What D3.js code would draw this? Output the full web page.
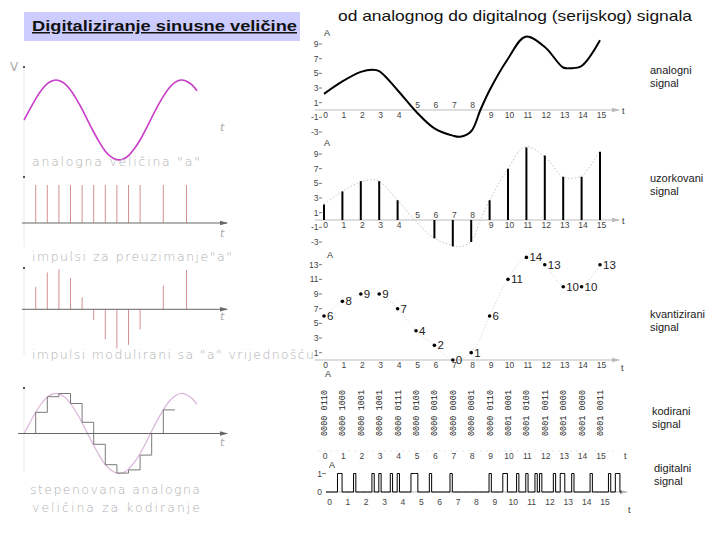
<!DOCTYPE html>
<html>
<head>
<meta charset="utf-8">
<script src="https://cdn.jsdelivr.net/npm/d3@7"></script>
<style>
body { margin: 0; background: #fff; }
svg { display: block; }
</style>
</head>
<body>
<svg width="720" height="540"></svg>
<script>
// ---- left side: sine, impulses, modulated impulses, staircase ----
var sineK = [0, 0.5, 1, 1.5, 2, 2.5, 3, 3.5, 4, 4.5, 5, 5.5, 6, 6.5, 7, 7.5, 8, 8.5, 9, 9.5, 10, 10.5, 11, 11.5, 12, 12.5, 13, 13.5, 14, 14.5, 14.9]
var sineV = [0, 0.27, 0.53, 0.75, 0.91, 0.99, 0.99, 0.91, 0.75, 0.53, 0.27, -0.02, -0.30, -0.56, -0.78, -0.92, -0.99, -0.98, -0.89, -0.72, -0.50, -0.23, 0.06, 0.34, 0.59, 0.80, 0.94, 1.0, 0.97, 0.87, 0.73]
var pulseK = [1, 2, 3, 4, 5, 6, 7, 8, 9, 10, 12, 14]
var pulseV = [0.56, 0.92, 1.0, 0.78, 0.30, -0.27, -0.75, -0.98, -0.89, -0.50, 0.59, 0.98]
var stepK = [1, 1, 2, 3, 4, 5, 6, 7, 8, 9, 10, 11, 12, 13]
var stepV = [0, 0.53, 0.92, 1.0, 0.75, 0.28, -0.27, -0.78, -0.99, -0.91, -0.54, 0, 0.59, 0.59]

// ---- right side: analog -> sampled -> quantized -> coded -> digital ----
var tTicks = [0, 1, 2, 3, 4, 5, 6, 7, 8, 9, 10, 11, 12, 13, 14, 15]
var tAbove = [5, 6, 7, 8]
var yTicksA = [9, 7, 5, 3, 1, -1, -3]
var yTicksQ = [13, 11, 9, 7, 5, 3, 1]
var analogT = [0, 1, 2, 2.65, 3, 4, 5, 6, 7, 7.4, 8, 8.5, 9, 10, 10.95, 12, 13, 13.4, 14, 15]
var analogV = [2.2, 3.9, 5.2, 5.5, 5.3, 2.7, -0.2, -2.5, -3.5, -3.65, -2.9, 0, 2.7, 7.0, 10.0, 8.6, 5.8, 5.7, 6.0, 9.5]
var sampledV = [2.1, 3.9, 5.3, 5.3, 2.7, 0, -2.5, -3.6, -3.0, 2.7, 7.0, 9.9, 8.8, 5.9, 5.9, 9.3]
var quantV = [6, 8, 9, 9, 7, 4, 2, 0, 1, 6, 11, 14, 13, 10, 10, 13]
var codes = ["0000 0110", "0000 1000", "0000 1001", "0000 1001", "0000 0111", "0000 0100",
  "0000 0010", "0000 0000", "0000 0001", "0000 0110", "0001 0001", "0001 0100",
  "0001 0011", "0001 0000", "0001 0000", "0001 0011"]

var svg = d3.select('svg')
svg.append('rect').attr('width', 720).attr('height', 540).attr('fill', '#fff')

var defs = svg.append('defs')
function arrow(id, color){
  defs.append('marker').attr('id', id)
    .attr('viewBox', '0 0 8 6').attr('refX', 7).attr('refY', 3)
    .attr('markerWidth', 8).attr('markerHeight', 6).attr('markerUnits', 'userSpaceOnUse')
    .attr('orient', 'auto')
    .append('path').attr('d', 'M0,0.8 L8,3 L0,5.2 z').attr('fill', color)
}
arrow('arrL', '#666')
arrow('arrR', '#bbb')

// titles
svg.append('rect').attr('x', 24).attr('y', 12).attr('width', 276).attr('height', 29).attr('fill', '#ccccff')
svg.append('text').attr('x', 32).attr('y', 31)
  .attr('font-family', 'Liberation Sans, Arial, sans-serif').attr('font-size', 15).attr('font-weight', 'bold')
  .attr('text-decoration', 'underline').attr('fill', '#111')
  .attr('textLength', 265).attr('lengthAdjust', 'spacingAndGlyphs')
  .text('Digitaliziranje sinusne veličine')
svg.append('text').attr('x', 338).attr('y', 21)
  .attr('font-family', 'Liberation Sans, Arial, sans-serif').attr('font-size', 15).attr('fill', '#111')
  .attr('textLength', 354).attr('lengthAdjust', 'spacingAndGlyphs')
  .text('od analognog do digitalnog (serijskog) signala')

// ================= left panels =================
var lx = d3.scaleLinear().domain([0, 15]).range([24.1, 198.1])
var ly1 = d3.scaleLinear().domain([-1, 1]).range([160, 80])
var ly3 = d3.scaleLinear().domain([-1, 1]).range([349.3, 269.3])
var ly4 = d3.scaleLinear().domain([-1, 1]).range([473.5, 393.5])
var pulseTop = 185, pulseBase = 223

var left = svg.append('g')
var sine = sineK.map(function(k, i){ return [k, sineV[i]] })

function faintAxis(y0, y1){
  left.append('line').attr('x1', 24).attr('x2', 24).attr('y1', y0).attr('y2', y1)
    .attr('stroke', '#ececec')
  left.append('rect').attr('x', 23).attr('y', y0 - 1).attr('width', 2).attr('height', 2).attr('fill', '#555')
}
function hAxis(y, x0){
  left.append('line').attr('x1', x0).attr('x2', 227).attr('y1', y).attr('y2', y)
    .attr('stroke', '#666').attr('marker-end', 'url(#arrL)')
}
function tLabel(y){
  left.append('text').attr('x', 220).attr('y', y).attr('font-family', 'DejaVu Sans, sans-serif')
    .attr('font-size', 11).attr('font-style', 'italic').attr('fill', '#aaa').text('t')
}
function grayText(s, x, y, w){
  left.append('text').attr('x', x).attr('y', y)
    .attr('font-family', 'DejaVu Sans, sans-serif').attr('font-weight', 200)
    .attr('font-size', 12.5).attr('fill', '#b0b0b0')
    .attr('textLength', w).attr('lengthAdjust', 'spacing')
    .text(s)
}

// panel 1: analog sine
faintAxis(67, 177)
left.append('text').attr('x', 10).attr('y', 71).attr('font-family', 'DejaVu Sans, sans-serif')
  .attr('font-size', 12).attr('fill', '#aaa').text('V')
left.append('path')
  .attr('d', d3.line().x(function(d){ return lx(d[0]) }).y(function(d){ return ly1(d[1]) }).curve(d3.curveNatural)(sine))
  .attr('fill', 'none').attr('stroke', '#c83cc8').attr('stroke-width', 1.6)
tLabel(131)
grayText('analogna  veličina  "a"', 32, 166, 168)

// panel 2: sampling impulses
faintAxis(177, 247)
left.selectAll('.imp').data(pulseK).enter().append('line')
  .attr('x1', function(d){ return lx(d) }).attr('x2', function(d){ return lx(d) })
  .attr('y1', pulseTop).attr('y2', pulseBase)
  .attr('stroke', '#d49090')
hAxis(pulseBase, 22)
tLabel(237)
grayText('impulsi  za  preuzimanje"a"', 32, 261, 200)

// panel 3: modulated impulses
faintAxis(268, 356)
left.selectAll('.mod').data(pulseK).enter().append('line')
  .attr('x1', function(d){ return lx(d) }).attr('x2', function(d){ return lx(d) })
  .attr('y1', ly3(0)).attr('y2', function(d, i){ return ly3(pulseV[i]) })
  .attr('stroke', '#d49090')
hAxis(ly3(0), 22)
tLabel(320)
grayText('impulsi modulirani sa "a"  vrijednošću', 32, 359, 282)

// panel 4: staircase
faintAxis(388, 472)
left.append('path')
  .attr('d', d3.line().x(function(d){ return lx(d[0]) }).y(function(d){ return ly4(d[1]) }).curve(d3.curveNatural)(sine))
  .attr('fill', 'none').attr('stroke', '#dab4da').attr('stroke-width', 1.2)
left.append('path')
  .attr('d', d3.line().x(function(d){ return lx(d) }).y(function(d, i){ return ly4(stepV[i]) }).curve(d3.curveStepAfter)(stepK))
  .attr('fill', 'none').attr('stroke', '#7a7a7a').attr('stroke-width', 1)
hAxis(ly4(0), 18)
tLabel(446)
grayText('stepenovana  analogna', 30, 494, 170)
grayText('veličina  za  kodiranje', 32, 512, 168)

// ================= right panels =================
var rx = d3.scaleLinear().domain([0, 15]).range([324, 600])
var unit = 7.33
var right = svg.append('g').attr('font-family', 'Liberation Sans, Arial, sans-serif')

function yScale(y0){ return d3.scaleLinear().domain([0, 1]).range([y0, y0 - unit]) }
var yA = yScale(110), yS = yScale(220), yQ = yScale(360)

function rAxis(y, x0, x1, col){
  right.append('line').attr('x1', x0).attr('x2', x1).attr('y1', y).attr('y2', y)
    .attr('stroke', col || '#bbb').attr('marker-end', 'url(#arrR)')
}
function letter(s, x, y, size){
  right.append('text').attr('x', x).attr('y', y).attr('font-size', size || 9).attr('fill', '#333').text(s)
}
function yTicks(ys, vals){
  vals.forEach(function(v){
    right.append('text').attr('x', 318.5).attr('y', ys(v) + 3).attr('text-anchor', 'end')
      .attr('font-size', 8.5).attr('fill', '#444').text(v)
    right.append('line').attr('x1', 319).attr('x2', 322).attr('y1', ys(v)).attr('y2', ys(v))
      .attr('stroke', '#777')
  })
}
function xTicks(y0, above, xs, shift){
  tTicks.forEach(function(t){
    var up = above && tAbove.indexOf(t) >= 0
    right.append('text').attr('x', xs(t) + (shift || 1.5)).attr('y', up ? y0 - 2 : y0 + 7.5)
      .attr('text-anchor', 'middle').attr('font-size', 8.5).attr('fill', '#444').text(t)
  })
}
function sideLabel(a, b, x, y){
  right.append('text').attr('x', x).attr('y', y).attr('font-size', 11).attr('fill', '#222').text(a)
  right.append('text').attr('x', x).attr('y', y + 12.5).attr('font-size', 11).attr('fill', '#222').text(b)
}

var analogPts = analogT.map(function(t, i){ return [t, analogV[i]] })
function curveIn(ys){
  return d3.line().x(function(d){ return rx(d[0]) }).y(function(d){ return ys(d[1]) })
    .curve(d3.curveCatmullRom.alpha(0.5))(analogPts)
}

// analog
rAxis(110, 315, 619)
yTicks(yA, yTicksA)
xTicks(110, true, rx)
letter('A', 324, 36)
letter('t', 622, 114, 9)
right.append('path').attr('d', curveIn(yA))
  .attr('fill', 'none').attr('stroke', '#000').attr('stroke-width', 2)
sideLabel('analogni', 'signal', 650, 74)

// sampled
rAxis(220, 315, 619)
yTicks(yS, yTicksA)
xTicks(220, true, rx)
letter('A', 324, 146)
letter('t', 622, 224, 9)
right.append('path').attr('d', curveIn(yS))
  .attr('fill', 'none').attr('stroke', '#bbb').attr('stroke-width', 0.9).attr('stroke-dasharray', '1.5,2')
right.selectAll('.stem').data(sampledV).enter().append('line')
  .attr('x1', function(d, i){ return rx(tTicks[i]) }).attr('x2', function(d, i){ return rx(tTicks[i]) })
  .attr('y1', yS(0)).attr('y2', function(d){ return yS(d) })
  .attr('stroke', '#000').attr('stroke-width', 2)
sideLabel('uzorkovani', 'signal', 650, 182)

// quantized
rAxis(360, 315, 619)
yTicks(yQ, yTicksQ)
xTicks(360, false, rx)
letter('A', 327, 258)
letter('t', 621, 371, 9)
right.append('path')
  .attr('d', d3.line().x(function(d, i){ return rx(tTicks[i]) }).y(function(d){ return yQ(d) }).curve(d3.curveCatmullRom)(quantV))
  .attr('fill', 'none').attr('stroke', '#ccc').attr('stroke-width', 0.9).attr('stroke-dasharray', '1,2')
right.selectAll('.qdot').data(quantV).enter().append('circle')
  .attr('cx', function(d, i){ return rx(tTicks[i]) }).attr('cy', function(d){ return yQ(d) })
  .attr('r', 1.8).attr('fill', '#000')
right.selectAll('.qlab').data(quantV).enter().append('text')
  .attr('x', function(d, i){ return rx(tTicks[i]) + 3 }).attr('y', function(d){ return yQ(d) + 4 })
  .attr('font-size', 11.5).attr('fill', '#222').text(function(d){ return d })
sideLabel('kvantizirani', 'signal', 650, 318)

// coded
letter('A', 325, 377)
right.selectAll('.code').data(codes).enter().append('text')
  .attr('transform', function(d, i){ return 'translate(' + (rx(tTicks[i]) + 3) + ',413) rotate(-90)' })
  .attr('text-anchor', 'middle')
  .attr('font-family', 'Liberation Mono, DejaVu Sans Mono, monospace').attr('font-size', 9)
  .attr('fill', '#222')
  .attr('textLength', 46).attr('lengthAdjust', 'spacingAndGlyphs')
  .text(function(d){ return d })
right.append('line').attr('x1', 318).attr('x2', 619).attr('y1', 451).attr('y2', 451)
  .attr('stroke', '#e4e4e4').attr('stroke-dasharray', '2,4')
xTicks(451.5, false, rx, 1)
letter('t', 624, 459, 9)
sideLabel('kodirani', 'signal', 652, 415)

// digital
var dx = d3.scaleLinear().domain([0, 16]).range([326, 326 + 16 * 18.37])
var dy = d3.scaleLinear().domain([0, 1]).range([492, 473.5])
var bits = codes.join('').replace(/ /g, '').split('').map(Number)
var bitW = 1 / 8
var bitPts = bits.map(function(b, i){ return [i * bitW, b] })
bitPts.unshift([0, 0])
bitPts.push([bits.length * bitW, 0])
bitPts.push([bits.length * bitW + 0.1, 0])
rAxis(492, 326, 627)
right.append('path')
  .attr('d', d3.line().x(function(d){ return dx(d[0]) }).y(function(d){ return dy(d[1]) }).curve(d3.curveStepAfter)(bitPts))
  .attr('fill', 'none').attr('stroke', '#000').attr('stroke-width', 1)
letter('A', 329, 468)
right.append('text').attr('x', 322).attr('y', dy(1) + 3).attr('text-anchor', 'end').attr('font-size', 8.5).attr('fill', '#444').text('1')
right.append('text').attr('x', 322).attr('y', dy(0) + 3).attr('text-anchor', 'end').attr('font-size', 8.5).attr('fill', '#444').text('0')
right.append('line').attr('x1', 322).attr('x2', 326).attr('y1', dy(1)).attr('y2', dy(1)).attr('stroke', '#777')
tTicks.forEach(function(t){
  right.append('text').attr('x', dx(t) + 3.5).attr('y', 504.5).attr('text-anchor', 'middle')
    .attr('font-size', 8.5).attr('fill', '#444').text(t)
})
letter('t', 628, 513, 9)
sideLabel('digitalni', 'signal', 654, 472)
</script>
</body>
</html>
